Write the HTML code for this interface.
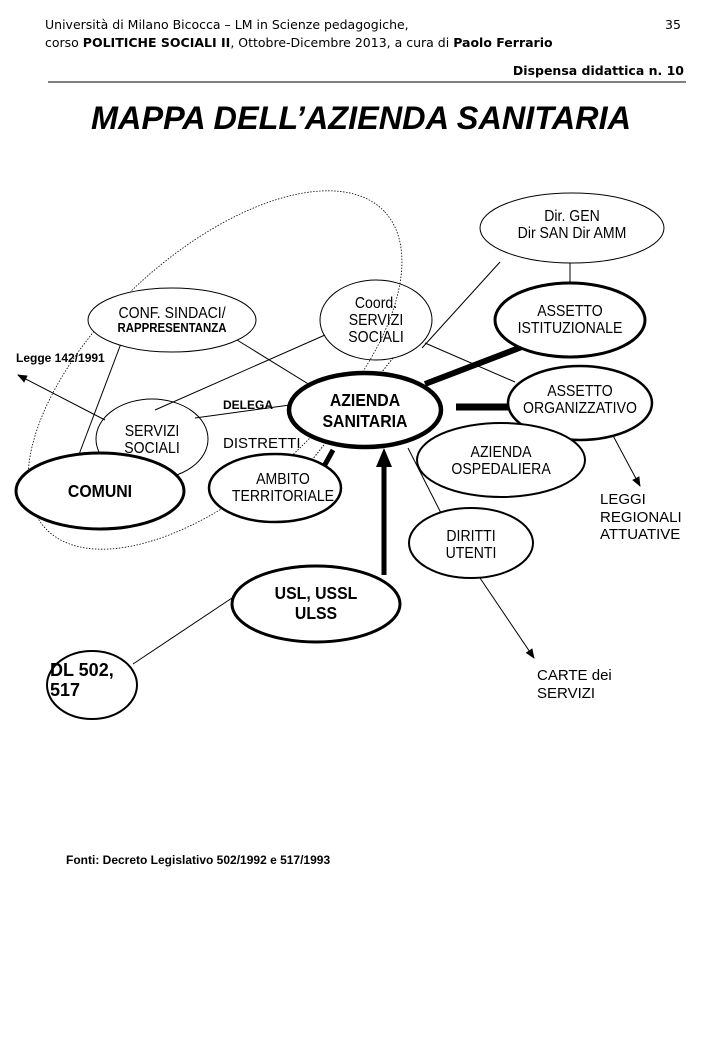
<!DOCTYPE html>
<html><head><meta charset="utf-8"><style>
body{margin:0;background:#fff}
svg{display:block}
text{font-family:"Liberation Sans",Arial,sans-serif;fill:#000}
.h{font-family:"DejaVu Sans","Liberation Sans",sans-serif;font-size:12.5px}
.n{font-size:16px;text-anchor:middle;transform:scaleX(.88);transform-box:fill-box;transform-origin:center}
.b{font-weight:bold}
</style></head><body>
<svg width="720" height="1040" viewBox="0 0 720 1040" xmlns="http://www.w3.org/2000/svg">
<defs><marker id="a" markerWidth="10" markerHeight="10" refX="9" refY="5" orient="auto" markerUnits="userSpaceOnUse"><path d="M0,1 L10,5 L0,9 z" fill="#000"/></marker></defs>
<text class="h" x="45" y="29">Università di Milano Bicocca – LM in Scienze pedagogiche,</text>
<text class="h" x="665" y="29">35</text>
<text class="h" x="45" y="47">corso <tspan font-weight="bold">POLITICHE SOCIALI II</tspan>, Ottobre-Dicembre 2013,  a cura di <tspan font-weight="bold">Paolo Ferrario</tspan></text>
<text class="h b" x="684" y="75" text-anchor="end">Dispensa didattica n. 10</text>
<line x1="48" y1="82" x2="686" y2="82" stroke="#000" stroke-width="1"/>
<text x="361" y="129" text-anchor="middle" font-size="32" font-weight="bold" font-style="italic" textLength="540" lengthAdjust="spacingAndGlyphs">MAPPA DELL’AZIENDA SANITARIA</text>

<ellipse cx="215" cy="370" rx="232" ry="115" transform="rotate(-43 215 370)" fill="none" stroke="#000" stroke-width="0.8" stroke-dasharray="1.5,1.5"/>

<g stroke="#000" stroke-width="1" fill="none">
<line x1="500" y1="262" x2="422" y2="348"/>
<line x1="570" y1="262" x2="570" y2="283"/>
<line x1="237" y1="340" x2="310" y2="385"/>
<line x1="128" y1="325" x2="75" y2="465"/>
<line x1="325" y1="335" x2="155" y2="410"/>
<line x1="425" y1="343" x2="515" y2="382"/>
<line x1="195" y1="418" x2="290" y2="405"/>
<line x1="105" y1="420" x2="18" y2="375" marker-end="url(#a)"/>
<line x1="408" y1="448" x2="442" y2="515"/>
<line x1="480" y1="578" x2="534" y2="658" marker-end="url(#a)"/>
<line x1="610" y1="430" x2="640" y2="486" marker-end="url(#a)"/>
<line x1="235" y1="596" x2="133" y2="664"/>
<line x1="393" y1="358" x2="312" y2="460" stroke-dasharray="1.5,1.5"/>
</g>
<g stroke="#000">
<line x1="425" y1="384" x2="527" y2="345" stroke-width="6"/>
<line x1="456" y1="407" x2="508" y2="407" stroke-width="7"/>
<line x1="333" y1="450" x2="322" y2="470" stroke-width="5"/>
<line x1="384" y1="575" x2="384" y2="465" stroke-width="5"/>
</g>
<path d="M376,467 L384,448 L392,467 z" fill="#000"/>

<g fill="#fff" stroke="#000">
<ellipse cx="572" cy="228" rx="92" ry="35" stroke-width="1"/>
<ellipse cx="172" cy="320" rx="84" ry="32" stroke-width="1"/>
<ellipse cx="376" cy="320" rx="56" ry="40" stroke-width="1" fill="none"/>
<ellipse cx="570" cy="320" rx="75" ry="37" stroke-width="3"/>
<ellipse cx="365" cy="410" rx="76" ry="37" stroke-width="4.5"/>
<ellipse cx="580" cy="403" rx="72" ry="37" stroke-width="2.5"/>
<ellipse cx="152" cy="439" rx="56" ry="40" stroke-width="1" fill="none"/>
<ellipse cx="100" cy="491" rx="84" ry="38" stroke-width="3"/>
<ellipse cx="275" cy="488" rx="66" ry="34" stroke-width="2.5"/>
<ellipse cx="501" cy="460" rx="84" ry="37" stroke-width="2"/>
<ellipse cx="471" cy="543" rx="62" ry="35" stroke-width="2"/>
<ellipse cx="316" cy="604" rx="84" ry="38" stroke-width="3"/>
<ellipse cx="92" cy="685" rx="45" ry="34" stroke-width="2"/>
</g>

<text class="n" x="572" y="221">Dir. GEN</text>
<text class="n" x="572" y="238">Dir SAN   Dir AMM</text>
<text class="n" x="172" y="318">CONF. SINDACI/</text>
<text class="n b" x="172" y="332" style="font-size:13px">RAPPRESENTANZA</text>
<text class="n" x="376" y="308">Coord.</text>
<text class="n" x="376" y="325">SERVIZI</text>
<text class="n" x="376" y="342">SOCIALI</text>
<text class="n" x="570" y="316">ASSETTO</text>
<text class="n" x="570" y="333">ISTITUZIONALE</text>
<text class="n b" x="365" y="406" style="font-size:18px">AZIENDA</text>
<text class="n b" x="365" y="427" style="font-size:18px">SANITARIA</text>
<text class="n" x="580" y="396">ASSETTO</text>
<text class="n" x="580" y="413">ORGANIZZATIVO</text>
<text class="n" x="152" y="436">SERVIZI</text>
<text class="n" x="152" y="453">SOCIALI</text>
<text class="n b" x="100" y="497" style="font-size:18px">COMUNI</text>
<text class="n" x="283" y="484">AMBITO</text>
<text class="n" x="283" y="501">TERRITORIALE</text>
<text class="n" x="501" y="457">AZIENDA</text>
<text class="n" x="501" y="474">OSPEDALIERA</text>
<text class="n" x="471" y="541">DIRITTI</text>
<text class="n" x="471" y="558">UTENTI</text>
<text class="n b" x="316" y="599" style="font-size:18px">USL,  USSL</text>
<text class="n b" x="316" y="619" style="font-size:18px">ULSS</text>
<text x="50" y="676" font-size="18" font-weight="bold">DL 502,</text>
<text x="50" y="696" font-size="18" font-weight="bold">517</text>
<text x="223" y="409" font-size="12" font-weight="bold">DELEGA</text>
<text x="223" y="448" font-size="15">DISTRETTI</text>
<text x="16" y="362" font-size="12" font-weight="bold">Legge 142/1991</text>
<text x="600" y="504" font-size="15">LEGGI</text>
<text x="600" y="522" font-size="15">REGIONALI</text>
<text x="600" y="539" font-size="15">ATTUATIVE</text>
<text x="537" y="680" font-size="15">CARTE dei</text>
<text x="537" y="698" font-size="15">SERVIZI</text>
<text x="66" y="864" font-size="12" font-weight="bold">Fonti: Decreto Legislativo 502/1992 e 517/1993</text>
</svg>
</body></html>
